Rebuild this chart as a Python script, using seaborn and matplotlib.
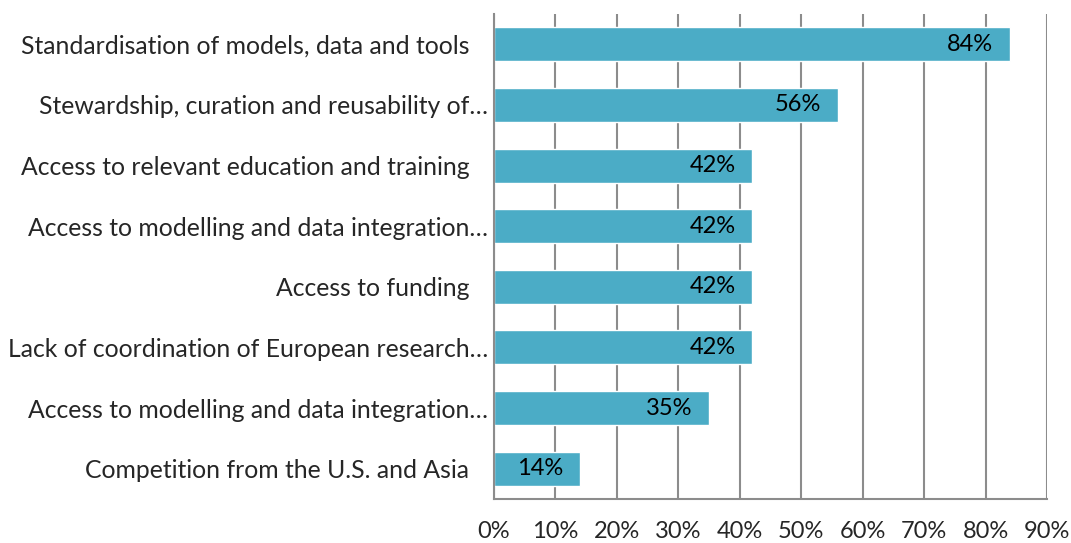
import pandas as pd
import matplotlib.pyplot as plt
import seaborn as sns

sns.set_style('white')
plt.rcParams['font.family'] = ['Lato', 'DejaVu Sans']

categories = [
    'Standardisation of models, data and tools   ',
    'Stewardship, curation and reusability of…',
    'Access to relevant education and training   ',
    'Access to modelling and data integration…',
    'Access to funding   ',
    'Lack of coordination of European research…',
    'Access to modelling and data integration…',
    'Competition from the U.S. and Asia   ',
]
values = [84, 56, 42, 42, 42, 42, 35, 14]
ticks = [0, 10, 20, 30, 40, 50, 60, 70, 80, 90]

df = pd.DataFrame({'pos': range(len(categories)), 'value': values})

fig = plt.figure(figsize=(10.71, 5.43), dpi=100)
ax = fig.add_axes([494 / 1071, 1 - 499 / 543, 553 / 1071, 485 / 543])

ax.barh(df['pos'], df['value'], height=0.56, color='#4BACC6', zorder=2)
for p, v in zip(df['pos'], df['value']):
    ax.annotate(f'{v}%', (v, p), xytext=(-12, 0), textcoords='offset points',
                ha='right', va='center', fontsize=17, color='#000000', zorder=3)

ax.set_xlim(0, 90)
ax.set_ylim(len(categories) - 0.5, -0.5)
ax.set_xticks(ticks)
ax.set_xticklabels([f'{t}%' for t in ticks], fontsize=17)
ax.set_yticks(range(len(categories)))
ax.set_yticklabels(categories, fontsize=17.8)
ax.tick_params(axis='x', length=0, pad=16)
ax.tick_params(axis='y', length=0, pad=4)
ax.xaxis.grid(True, color='#8c8c8c', linewidth=1.5, zorder=1)
ax.yaxis.grid(False)
for s in ['top', 'right']:
    ax.spines[s].set_visible(False)
for s in ['left', 'bottom']:
    ax.spines[s].set_color('#8c8c8c')
    ax.spines[s].set_linewidth(1.5)

fig.savefig('out.png', dpi=100)
